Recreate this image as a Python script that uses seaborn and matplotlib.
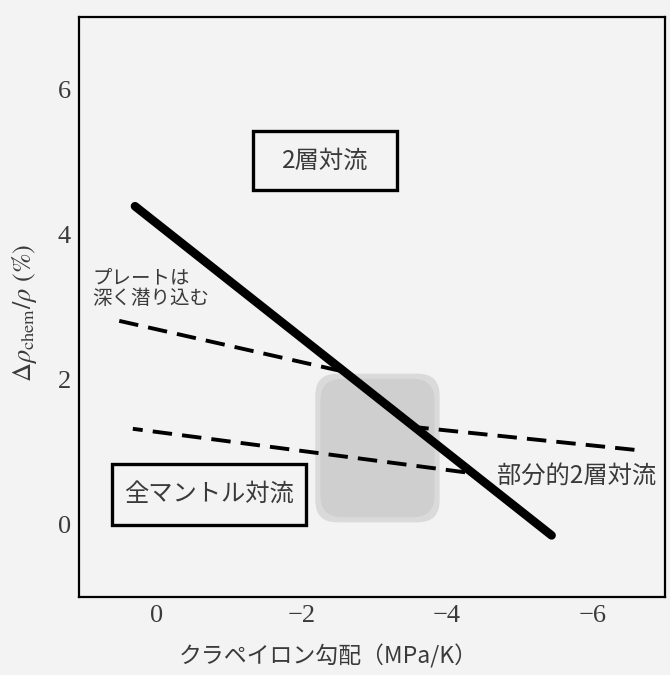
import matplotlib
matplotlib.use("Agg")
import matplotlib.pyplot as plt
from matplotlib.patches import Rectangle, FancyBboxPatch
import seaborn as sns
import pandas as pd

# ---- data ----
solid_x = [0.29, -5.44]
solid_y = [4.39, -0.15]

upper_left_x = [0.60, -2.53]
upper_left_y = [2.83, 2.12]

upper_right_x = [-3.59, -6.58]
upper_right_y = [1.34, 1.03]

lower_x = [0.32, -4.25]
lower_y = [1.32, 0.72]

# shaded region (x range, y range)
shade_x = [-2.19, -3.90]
shade_y = [0.03, 2.08]

x_ticks = [0, -2, -4, -6]
x_tick_labels = ["0", "\u22122", "\u22124", "\u22126"]
y_ticks = [0, 2, 4, 6]
y_tick_labels = ["0", "2", "4", "6"]

label_two_layer = "2層対流"
label_whole = "全マントル対流"
label_partial = "部分的2層対流"
label_plate = "プレートは\n深く潜り込む"
x_label = "クラペイロン勾配（MPa/K）"
y_label = r"$\Delta\rho_{\rm chem}/\rho\ (\%)$"

# ---- style ----
sns.set_theme(style="white")
plt.rcParams["font.family"] = ["Noto Sans CJK JP", "DejaVu Sans"]
plt.rcParams["mathtext.fontset"] = "stix"

bg = "#f3f3f3"
txt = "#3a3a3a"
jp = ["Noto Sans CJK JP", "DejaVu Sans"]
serif = ["Liberation Serif", "DejaVu Serif"]

fig = plt.figure(figsize=(6.7, 6.75), dpi=100, facecolor=bg)
ax = fig.add_axes([79 / 670, 1 - 597 / 675, (665 - 79) / 670, (597 - 17) / 675])
ax.set_facecolor(bg)

ax.set_xlim(1.06, -7.0)
ax.set_ylim(-1.0, 7.0)

# shaded region with soft rounded corners
sx0, sx1 = min(shade_x), max(shade_x)
sy0, sy1 = min(shade_y), max(shade_y)
ax.add_patch(FancyBboxPatch((sx0 + 0.05, sy0 + 0.05), (sx1 - sx0) - 0.1, (sy1 - sy0) - 0.1,
                            boxstyle="round,pad=0.05,rounding_size=0.3",
                            fc="#dadada", ec="none", zorder=1))
ax.add_patch(FancyBboxPatch((sx0 + 0.12, sy0 + 0.12), (sx1 - sx0) - 0.24, (sy1 - sy0) - 0.24,
                            boxstyle="round,pad=0.05,rounding_size=0.3",
                            fc="#cdcdcd", ec="none", alpha=0.8, zorder=1))

# lines via seaborn
df_solid = pd.DataFrame({"x": solid_x, "y": solid_y})
sns.lineplot(data=df_solid, x="x", y="y", ax=ax, color="black", linewidth=6.2,
             solid_capstyle="round", zorder=4)

dash = (0, (5.0, 2.6))
for xs, ys in [(upper_left_x, upper_left_y), (upper_right_x, upper_right_y), (lower_x, lower_y)]:
    d = pd.DataFrame({"x": xs, "y": ys})
    sns.lineplot(data=d, x="x", y="y", ax=ax, color="black", linewidth=2.8,
                 linestyle=dash, zorder=3)

# boxes with labels
ax.add_patch(Rectangle((-3.31, 4.61), 1.98, 0.82, fill=False, ec="black", lw=2.4, zorder=5))
ax.text(-2.32, 5.02, label_two_layer, ha="center", va="center", fontsize=17.5,
        color=txt, family=jp, zorder=6)

ax.add_patch(Rectangle((-2.06, 0.0), 2.66, 0.83, fill=False, ec="black", lw=2.4, zorder=5))
ax.text(-0.73, 0.42, label_whole, ha="center", va="center", fontsize=17.5,
        color=txt, family=jp, zorder=6)

ax.text(-4.69, 0.68, label_partial, ha="left", va="center", fontsize=17.5,
        color=txt, family=jp, zorder=6)
ax.text(0.88, 3.26, label_plate, ha="left", va="center", fontsize=14,
        color=txt, family=jp, linespacing=1.0, zorder=6)

# axes
ax.set_xticks(x_ticks)
ax.set_xticklabels(x_tick_labels, family=serif, fontsize=19, color=txt)
ax.set_yticks(y_ticks)
ax.set_yticklabels(y_tick_labels, family=serif, fontsize=19, color=txt)
ax.tick_params(axis="both", direction="in", length=14, width=1.5, color="black", pad=6)

ax.set_xlabel(x_label, fontsize=16.5, color=txt, family=jp)
ax.xaxis.set_label_coords(0.425, -0.082)
ax.set_ylabel(y_label, fontsize=19, color=txt, family=serif)
ax.yaxis.set_label_coords(-0.068, 0.49)

for s in ax.spines.values():
    s.set_visible(True)
    s.set_color("black")
    s.set_linewidth(1.6)

ax.grid(False)
fig.savefig("out.png", dpi=100, facecolor=bg)
